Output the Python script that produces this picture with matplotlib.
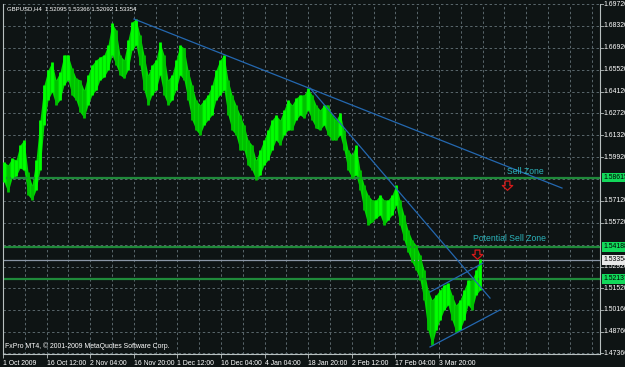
import matplotlib
matplotlib.use("Agg")
import matplotlib.pyplot as plt
import matplotlib.transforms as mtransforms
from matplotlib.path import Path
import numpy as np

plt.rcParams["font.family"] = ["Liberation Sans", "DejaVu Sans"]

# ---------------- data ----------------
highs = [1.5961,1.5942,1.5986,1.5974,1.6070,1.6102,1.5897,1.5814,1.5974,1.6230,
         1.6454,1.6550,1.6601,1.6486,1.6537,1.6646,1.6646,1.6562,1.6498,1.6486,
         1.6422,1.6518,1.6582,1.6614,1.6633,1.6646,1.6710,1.6850,1.6806,1.6646,
         1.6614,1.6742,1.6857,1.6876,1.6774,1.6646,1.6518,1.6582,1.6614,1.6729,
         1.6646,1.6486,1.6518,1.6614,1.6710,1.6690,1.6550,1.6454,1.6358,1.6326,
         1.6358,1.6390,1.6454,1.6550,1.6614,1.6646,1.6486,1.6390,1.6326,1.6262,
         1.6198,1.6102,1.6070,1.5974,1.6038,1.6102,1.6166,1.6230,1.6262,1.6230,
         1.6294,1.6358,1.6326,1.6370,1.6390,1.6390,1.6434,1.6390,1.6326,1.6294,
         1.6326,1.6326,1.6262,1.6230,1.6275,1.6166,1.6038,1.6006,1.6070,1.5910,
         1.5814,1.5750,1.5718,1.5718,1.5750,1.5718,1.5718,1.5750,1.5814,1.5718,
         1.5622,1.5526,1.5462,1.5430,1.5366,1.5270,1.5142,1.5078,1.5110,1.5142,
         1.5174,1.5186,1.5110,1.5046,1.5078,1.5142,1.5206,1.5206,1.5270,1.5337]
lows = [1.5833,1.5769,1.5858,1.5871,1.5922,1.5910,1.5750,1.5718,1.5782,1.5910,
        1.6198,1.6358,1.6409,1.6326,1.6358,1.6454,1.6486,1.6390,1.6358,1.6281,
        1.6243,1.6326,1.6390,1.6422,1.6486,1.6505,1.6550,1.6646,1.6582,1.6518,
        1.6498,1.6550,1.6678,1.6710,1.6582,1.6422,1.6326,1.6390,1.6422,1.6518,
        1.6390,1.6326,1.6358,1.6422,1.6518,1.6486,1.6358,1.6230,1.6166,1.6134,
        1.6198,1.6230,1.6262,1.6358,1.6390,1.6422,1.6262,1.6166,1.6134,1.6038,
        1.6038,1.5942,1.5910,1.5846,1.5878,1.5942,1.5974,1.6038,1.6102,1.6070,
        1.6134,1.6166,1.6166,1.6230,1.6262,1.6243,1.6294,1.6230,1.6178,1.6166,
        1.6198,1.6134,1.6102,1.6102,1.6134,1.6038,1.5910,1.5858,1.5878,1.5782,
        1.5654,1.5558,1.5577,1.5602,1.5622,1.5558,1.5590,1.5622,1.5686,1.5558,
        1.5462,1.5385,1.5321,1.5270,1.5206,1.5078,1.4886,1.4790,1.4886,1.4950,
        1.5014,1.5046,1.4950,1.4873,1.4886,1.4950,1.5046,1.5014,1.5110,1.5142]

date_labels = ["1 Oct 2009", "16 Oct 12:00", "2 Nov 04:00", "16 Nov 20:00",
               "1 Dec 12:00", "16 Dec 04:00", "4 Jan 04:00", "18 Jan 20:00",
               "2 Feb 12:00", "17 Feb 04:00", "3 Mar 20:00"]

price_ticks = [1.47360, 1.48760, 1.50160, 1.51520, 1.52920, 1.55720, 1.57120,
               1.59920, 1.61320, 1.62720, 1.64120, 1.65520, 1.66920, 1.68320, 1.69720]
grid_prices = [1.47360, 1.48760, 1.50160, 1.51520, 1.52920, 1.54320, 1.55720, 1.57120,
               1.58520, 1.59920, 1.61320, 1.62720, 1.64120, 1.65520, 1.66920, 1.68320, 1.69720]

zone_levels = [1.58615, 1.54188, 1.52137]
bid_price = 1.53354

# trendlines: (bar index, price) anchors
trend_main = ([32.5, 139.5], [1.6876, 1.5794])
trend_second = ([76.5, 121.5], [1.6434, 1.5090])
tri_upper = ([106.5, 119.75], [1.5129, 1.5314])
tri_lower = ([106.5, 124.0], [1.4777, 1.5014])

# sell-arrow signals: (bar index, price)
arrow_x = [125.75, 118.25]
arrow_y = [1.5813, 1.5375]

title_text = "GBPUSD,H4  1.52095 1.53366 1.52092 1.53354"
copyright_text = "FxPro MT4, \u00a9 2001-2009 MetaQuotes Software Corp."

# ---------------- drawing ----------------
W, H = 625, 367
bg = "#0e1414"
fs = 4.95
fig = plt.figure(figsize=(W / 100, H / 100), dpi=100, facecolor=bg)
ax = fig.add_axes([3 / W, (H - 354) / H, (600 - 3) / W, (354 - 4) / H], facecolor=bg)

n = len(highs)
xs = np.arange(n)
x_min, x_max = -0.25, 149.0
y_min, y_max = 1.4732, 1.6972
ax.set_xlim(x_min, x_max)
ax.set_ylim(y_min, y_max)

grid_c = "#5a676c"
label_step = 10.9
for k in range(0, 28):
    gx = -0.25 + k * label_step / 2
    if 0 < gx < x_max:
        ax.axvline(gx, color=grid_c, lw=0.7, ls=(0, (2.5, 2.5)), zorder=1)
for gp in grid_prices:
    ax.axhline(gp, color=grid_c, lw=0.7, ls=(0, (2.5, 2.5)), zorder=1)

# price bars
cols = []
for i in range(n):
    prev_mid = (highs[i - 1] + lows[i - 1]) / 2 if i > 0 else (highs[i] + lows[i]) / 2
    mid = (highs[i] + lows[i]) / 2
    cols.append("#00ff00" if mid >= prev_mid else "#00c000")
ax.fill_between(xs, lows, highs, color="#00d800", lw=0, zorder=2)
ax.vlines(xs, lows, highs, colors=cols, lw=2.0, zorder=3)

# zone lines
for lv in zone_levels:
    ax.axhline(lv, color="#1f8a3a", lw=1.6, zorder=2)
ax.axhline(bid_price, color="#8a96a6", lw=0.9, zorder=2)

# trendlines
tl_c = "#2468b0"
for tx, ty in [trend_main, trend_second, tri_upper, tri_lower]:
    ax.plot(tx, ty, color=tl_c, lw=0.9, zorder=4)

# annotations
ax.text(125.75, 1.5885, "Sell Zone", color="#2cb4bc", fontsize=6.2, zorder=5)
ax.text(117.25, 1.5455, "Potential Sell Zone", color="#2cb4bc", fontsize=6.2, zorder=5)

arrow_marker = Path([(-0.3, 0.55), (0.3, 0.55), (0.3, 0.0), (0.65, 0.0), (0.0, -0.6),
                     (-0.65, 0.0), (-0.3, 0.0), (-0.3, 0.55)],
                    [Path.MOVETO] + [Path.LINETO] * 6 + [Path.CLOSEPOLY])
ax.plot(arrow_x, arrow_y, ls="none", marker=arrow_marker, markersize=7.5,
        markerfacecolor="none", markeredgecolor="#d41a1a", markeredgewidth=0.9, zorder=5)

ax.text(0.006, 0.994, title_text, transform=ax.transAxes, color="white", fontsize=4.3,
        va="top", ha="left")
ax.text(0.003, 0.012, copyright_text, transform=ax.transAxes, color="white", fontsize=fs,
        va="bottom", ha="left")

# axes styling
ax.spines["top"].set_visible(False)
for s in ["left", "right", "bottom"]:
    ax.spines[s].set_color("#b8c0c0")
    ax.spines[s].set_linewidth(0.8)

tick_pos = [-0.25 + k * label_step for k in range(len(date_labels))]
ax.set_xticks(tick_pos)
ax.set_xticklabels(date_labels, fontsize=fs, color="white", ha="left")
ax.tick_params(axis="x", length=3, width=0.6, color="#b8c0c0", pad=1.5)
ax.set_yticks([])

trans = mtransforms.blended_transform_factory(ax.transAxes, ax.transData)
for p in price_ticks:
    ax.text(1.006, p, f"{p:.5f}", transform=trans, color="white", fontsize=fs,
            va="center", ha="left", clip_on=False)
    ax.plot([1.0, 1.005], [p, p], transform=trans, color="#b8c0c0", lw=0.6, clip_on=False)
for lv in zone_levels:
    ax.text(1.006, lv, f"{lv:.5f}", transform=trans, color="black", fontsize=fs,
            va="center", ha="left", clip_on=False,
            bbox=dict(boxstyle="square,pad=0.2", fc="#12d85a", ec="none"))
ax.text(1.006, bid_price, f"{bid_price:.5f}", transform=trans, color="black", fontsize=fs,
        va="center", ha="left", clip_on=False,
        bbox=dict(boxstyle="square,pad=0.2", fc="#e8e8e8", ec="none"))

fig.savefig("out.png", dpi=100, facecolor=bg)
